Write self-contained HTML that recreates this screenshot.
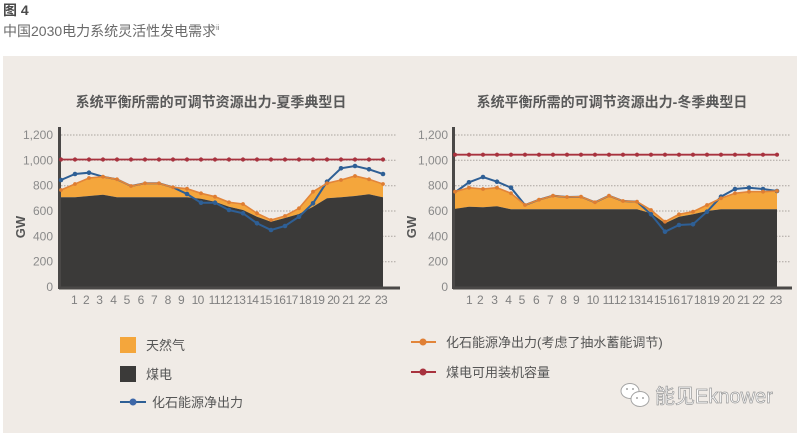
<!DOCTYPE html>
<html><head><meta charset="utf-8"><style>
html,body{margin:0;padding:0;background:#fff;}
body{width:800px;height:433px;overflow:hidden;font-family:"Liberation Sans","Noto Sans CJK SC",sans-serif;}
svg{display:block;}
</style></head><body>
<svg width="800" height="433" viewBox="0 0 800 433" xmlns="http://www.w3.org/2000/svg" font-family="Liberation Sans, Noto Sans CJK SC, sans-serif">
<rect x="0" y="0" width="800" height="433" fill="#ffffff"/>
<text x="3" y="15" font-size="14" font-weight="bold" fill="#4a4a4a">图 4</text>
<text x="3" y="36" font-size="14" fill="#6a6a6a">中国2030电力系统灵活性发电需求<tspan font-size="7" dy="-6">ii</tspan></text>
<rect x="3" y="56" width="794" height="377" fill="#f0ebe6"/>

<!-- Titles -->
<text x="211" y="107" font-size="14" font-weight="bold" fill="#595959" text-anchor="middle">系统平衡所需的可调节资源出力-夏季典型日</text>
<text x="612" y="107" font-size="14" font-weight="bold" fill="#595959" text-anchor="middle">系统平衡所需的可调节资源出力-冬季典型日</text>

<!-- gridlines -->
<g stroke="#aaa49f" stroke-width="1" stroke-dasharray="1.5 1.5">
<line x1="61" y1="135" x2="397" y2="135"/><line x1="61" y1="160.3" x2="397" y2="160.3"/><line x1="61" y1="185.7" x2="397" y2="185.7"/><line x1="61" y1="211" x2="397" y2="211"/><line x1="61" y1="236.3" x2="397" y2="236.3"/><line x1="61" y1="261.7" x2="397" y2="261.7"/>
<line x1="455" y1="135" x2="790" y2="135"/><line x1="455" y1="160.3" x2="790" y2="160.3"/><line x1="455" y1="185.7" x2="790" y2="185.7"/><line x1="455" y1="211" x2="790" y2="211"/><line x1="455" y1="236.3" x2="790" y2="236.3"/><line x1="455" y1="261.7" x2="790" y2="261.7"/>
</g>

<!-- Y labels -->
<g font-size="12" fill="#8a8a8a" text-anchor="end">
<text x="53" y="139">1,200</text><text x="53" y="164.3">1,000</text><text x="53" y="189.7">800</text><text x="53" y="215">600</text><text x="53" y="240.3">400</text><text x="53" y="265.7">200</text><text x="53" y="291">0</text>
<text x="448" y="139">1,200</text><text x="448" y="164.3">1,000</text><text x="448" y="189.7">800</text><text x="448" y="215">600</text><text x="448" y="240.3">400</text><text x="448" y="265.7">200</text><text x="448" y="291">0</text>
</g>
<text transform="translate(25,227) rotate(-90)" font-size="13" font-weight="bold" fill="#555" text-anchor="middle">GW</text>
<text transform="translate(416,227) rotate(-90)" font-size="13" font-weight="bold" fill="#555" text-anchor="middle">GW</text>

<!-- LEFT CHART (summer) -->
<polygon fill="#f4a63c" points="61,190 75,184 89,178 103,176.7 117,179.3 131,186 145,183.3 159,183.3 173,187.3 187,188.7 201,193.3 215,196.7 229,202.3 243,204 257,213.3 271,220 285,216 299,208.3 313,191.7 327,183.3 341,180 355,176 369,179.3 383,184 383,197.3 369,194.3 355,196 341,197.3 327,198.3 313,206.7 299,214 285,218 271,221.7 257,216.7 243,210 229,206.7 215,201.7 201,198.7 187,197.3 173,197.3 159,197.3 145,197.3 131,197.3 117,197.3 103,194.7 89,196 75,197.3 61,197.3"/>
<polygon fill="#3b3a39" points="60,197.3 75,197.3 89,196 103,194.7 117,197.3 131,197.3 145,197.3 159,197.3 173,197.3 187,197.3 201,198.7 215,201.7 229,206.7 243,210 257,216.7 271,221.7 285,218 299,214 313,206.7 327,198.3 341,197.3 355,196 369,194.3 383,197.3 383,287 60,287"/>
<line x1="59.5" y1="127" x2="59.5" y2="289" stroke="#4a4847" stroke-width="3"/>
<line x1="59" y1="288" x2="400" y2="288" stroke="#4a4847" stroke-width="3"/>
<polyline fill="none" stroke="#2e5f95" stroke-width="2" points="61,180 75,174 89,172.7 103,176.7 117,179.3 131,186 145,183.3 159,183.3 173,187.3 187,194 201,202.7 215,202.7 229,210 243,213.3 257,223.3 271,230 285,226 299,216.7 313,203.3 327,181.7 341,168.3 355,166 369,169.3 383,174"/>
<g fill="#2e5f95">
<circle cx="61" cy="180" r="2.3"/><circle cx="75" cy="174" r="2.3"/><circle cx="89" cy="172.7" r="2.3"/><circle cx="187" cy="194" r="2.3"/><circle cx="201" cy="202.7" r="2.3"/><circle cx="215" cy="202.7" r="2.3"/><circle cx="229" cy="210" r="2.3"/><circle cx="243" cy="213.3" r="2.3"/><circle cx="257" cy="223.3" r="2.3"/><circle cx="271" cy="230" r="2.3"/><circle cx="285" cy="226" r="2.3"/><circle cx="299" cy="216.7" r="2.3"/><circle cx="313" cy="203.3" r="2.3"/><circle cx="327" cy="181.7" r="2.3"/><circle cx="341" cy="168.3" r="2.3"/><circle cx="355" cy="166" r="2.3"/><circle cx="369" cy="169.3" r="2.3"/><circle cx="383" cy="174" r="2.3"/>
</g>
<polyline fill="none" stroke="#e2853a" stroke-width="1.6" points="61,190 75,184 89,178 103,176.7 117,179.3 131,186 145,183.3 159,183.3 173,187.3 187,188.7 201,193.3 215,196.7 229,202.3 243,204 257,213.3 271,220 285,216 299,208.3 313,191.7 327,183.3 341,180 355,176 369,179.3 383,184"/>
<g fill="#de7d33">
<circle cx="61" cy="190" r="1.9"/><circle cx="75" cy="184" r="1.9"/><circle cx="89" cy="178" r="1.9"/><circle cx="103" cy="176.7" r="1.9"/><circle cx="117" cy="179.3" r="1.9"/><circle cx="131" cy="186" r="1.9"/><circle cx="145" cy="183.3" r="1.9"/><circle cx="159" cy="183.3" r="1.9"/><circle cx="173" cy="187.3" r="1.9"/><circle cx="187" cy="188.7" r="1.9"/><circle cx="201" cy="193.3" r="1.9"/><circle cx="215" cy="196.7" r="1.9"/><circle cx="229" cy="202.3" r="1.9"/><circle cx="243" cy="204" r="1.9"/><circle cx="257" cy="213.3" r="1.9"/><circle cx="271" cy="220" r="1.9"/><circle cx="285" cy="216" r="1.9"/><circle cx="299" cy="208.3" r="1.9"/><circle cx="313" cy="191.7" r="1.9"/><circle cx="327" cy="183.3" r="1.9"/><circle cx="341" cy="180" r="1.9"/><circle cx="355" cy="176" r="1.9"/><circle cx="369" cy="179.3" r="1.9"/><circle cx="383" cy="184" r="1.9"/>
</g>
<line x1="61" y1="159.5" x2="383" y2="159.5" stroke="#a8323e" stroke-width="1.8"/>
<g fill="#a8323e">
<circle cx="61" cy="159.5" r="2.1"/><circle cx="75" cy="159.5" r="2.1"/><circle cx="89" cy="159.5" r="2.1"/><circle cx="103" cy="159.5" r="2.1"/><circle cx="117" cy="159.5" r="2.1"/><circle cx="131" cy="159.5" r="2.1"/><circle cx="145" cy="159.5" r="2.1"/><circle cx="159" cy="159.5" r="2.1"/><circle cx="173" cy="159.5" r="2.1"/><circle cx="187" cy="159.5" r="2.1"/><circle cx="201" cy="159.5" r="2.1"/><circle cx="215" cy="159.5" r="2.1"/><circle cx="229" cy="159.5" r="2.1"/><circle cx="243" cy="159.5" r="2.1"/><circle cx="257" cy="159.5" r="2.1"/><circle cx="271" cy="159.5" r="2.1"/><circle cx="285" cy="159.5" r="2.1"/><circle cx="299" cy="159.5" r="2.1"/><circle cx="313" cy="159.5" r="2.1"/><circle cx="327" cy="159.5" r="2.1"/><circle cx="341" cy="159.5" r="2.1"/><circle cx="355" cy="159.5" r="2.1"/><circle cx="369" cy="159.5" r="2.1"/><circle cx="383" cy="159.5" r="2.1"/>
</g>

<!-- RIGHT CHART (winter) -->
<polygon fill="#f4a63c" points="455,191.7 469,187.7 483,189 497,187.7 511,193.3 525,205 539,199.7 553,195.7 567,197 581,196.7 595,202.3 609,195.7 623,201 637,201.7 651,210 665,221.7 679,214.3 693,211.7 707,205 721,198.3 735,193.3 749,191.7 763,191.7 777,191 777,209.3 763,209.3 749,209.3 735,209.3 721,209.3 707,211 693,214.3 679,216.7 665,223.3 651,213.3 637,209.3 623,209.3 609,209.3 595,209.3 581,209.3 567,209.3 553,209.3 539,209.3 525,209.3 511,209.3 497,206.3 483,207.3 469,206.7 455,209"/>
<polygon fill="#3b3a39" points="454,209 469,206.7 483,207.3 497,206.3 511,209.3 525,209.3 539,209.3 553,209.3 567,209.3 581,209.3 595,209.3 609,209.3 623,209.3 637,209.3 651,213.3 665,223.3 679,216.7 693,214.3 707,211 721,209.3 735,209.3 749,209.3 763,209.3 777,209.3 777,287 454,287"/>
<line x1="453.5" y1="127" x2="453.5" y2="289" stroke="#4a4847" stroke-width="3"/>
<line x1="453" y1="288" x2="792" y2="288" stroke="#4a4847" stroke-width="3"/>
<polyline fill="none" stroke="#2e5f95" stroke-width="2" points="455,192.3 469,182.3 483,177 497,181.7 511,187.7 525,205 539,199.7 553,195.7 567,197 581,196.7 595,202.3 609,195.7 623,201 637,201.7 651,214.3 665,231.7 679,225 693,224.3 707,211.7 721,196.7 735,189 749,187.7 763,189 777,191"/>
<g fill="#2e5f95">
<circle cx="469" cy="182.3" r="2.3"/><circle cx="483" cy="177" r="2.3"/><circle cx="497" cy="181.7" r="2.3"/><circle cx="511" cy="187.7" r="2.3"/><circle cx="651" cy="214.3" r="2.3"/><circle cx="665" cy="231.7" r="2.3"/><circle cx="679" cy="225" r="2.3"/><circle cx="693" cy="224.3" r="2.3"/><circle cx="707" cy="211.7" r="2.3"/><circle cx="721" cy="196.7" r="2.3"/><circle cx="735" cy="189" r="2.3"/><circle cx="749" cy="187.7" r="2.3"/><circle cx="763" cy="189" r="2.3"/><circle cx="777" cy="191" r="2.3"/>
</g>
<polyline fill="none" stroke="#e2853a" stroke-width="1.6" points="455,191.7 469,187.7 483,189 497,187.7 511,193.3 525,205 539,199.7 553,195.7 567,197 581,196.7 595,202.3 609,195.7 623,201 637,201.7 651,210 665,221.7 679,214.3 693,211.7 707,205 721,198.3 735,193.3 749,191.7 763,191.7 777,191"/>
<g fill="#de7d33">
<circle cx="455" cy="191.7" r="1.9"/><circle cx="469" cy="187.7" r="1.9"/><circle cx="483" cy="189" r="1.9"/><circle cx="497" cy="187.7" r="1.9"/><circle cx="511" cy="193.3" r="1.9"/><circle cx="525" cy="205" r="1.9"/><circle cx="539" cy="199.7" r="1.9"/><circle cx="553" cy="195.7" r="1.9"/><circle cx="567" cy="197" r="1.9"/><circle cx="581" cy="196.7" r="1.9"/><circle cx="595" cy="202.3" r="1.9"/><circle cx="609" cy="195.7" r="1.9"/><circle cx="623" cy="201" r="1.9"/><circle cx="637" cy="201.7" r="1.9"/><circle cx="651" cy="210" r="1.9"/><circle cx="665" cy="221.7" r="1.9"/><circle cx="679" cy="214.3" r="1.9"/><circle cx="693" cy="211.7" r="1.9"/><circle cx="707" cy="205" r="1.9"/><circle cx="721" cy="198.3" r="1.9"/><circle cx="735" cy="193.3" r="1.9"/><circle cx="749" cy="191.7" r="1.9"/><circle cx="763" cy="191.7" r="1.9"/><circle cx="777" cy="191" r="1.9"/>
</g>
<line x1="455" y1="154.7" x2="777" y2="154.7" stroke="#a8323e" stroke-width="1.8"/>
<g fill="#a8323e">
<circle cx="455" cy="154.7" r="2.1"/><circle cx="469" cy="154.7" r="2.1"/><circle cx="483" cy="154.7" r="2.1"/><circle cx="497" cy="154.7" r="2.1"/><circle cx="511" cy="154.7" r="2.1"/><circle cx="525" cy="154.7" r="2.1"/><circle cx="539" cy="154.7" r="2.1"/><circle cx="553" cy="154.7" r="2.1"/><circle cx="567" cy="154.7" r="2.1"/><circle cx="581" cy="154.7" r="2.1"/><circle cx="595" cy="154.7" r="2.1"/><circle cx="609" cy="154.7" r="2.1"/><circle cx="623" cy="154.7" r="2.1"/><circle cx="637" cy="154.7" r="2.1"/><circle cx="651" cy="154.7" r="2.1"/><circle cx="665" cy="154.7" r="2.1"/><circle cx="679" cy="154.7" r="2.1"/><circle cx="693" cy="154.7" r="2.1"/><circle cx="707" cy="154.7" r="2.1"/><circle cx="721" cy="154.7" r="2.1"/><circle cx="735" cy="154.7" r="2.1"/><circle cx="749" cy="154.7" r="2.1"/><circle cx="763" cy="154.7" r="2.1"/><circle cx="777" cy="154.7" r="2.1"/>
</g>

<!-- X labels -->
<g font-size="12" fill="#808080" text-anchor="middle" letter-spacing="-0.6">
<text x="74" y="304">1</text><text x="86" y="304">2</text><text x="99.3" y="304">3</text><text x="113.3" y="304">4</text><text x="126.7" y="304">5</text><text x="140.7" y="304">6</text><text x="154" y="304">7</text><text x="167.7" y="304">8</text><text x="181" y="304">9</text><text x="197.7" y="304">10</text><text x="214.3" y="304">11</text><text x="226" y="304">12</text><text x="239.3" y="304">13</text><text x="252.3" y="304">14</text><text x="265.7" y="304">15</text><text x="279.3" y="304">16</text><text x="291.7" y="304">17</text><text x="305" y="304">18</text><text x="318.3" y="304">19</text><text x="333.3" y="304">20</text><text x="348.3" y="304">21</text><text x="364" y="304">22</text><text x="381" y="304">23</text>
<text x="469" y="304">1</text><text x="480" y="304">2</text><text x="494.3" y="304">3</text><text x="508.3" y="304">4</text><text x="521.7" y="304">5</text><text x="536" y="304">6</text><text x="550" y="304">7</text><text x="563.3" y="304">8</text><text x="576" y="304">9</text><text x="592.7" y="304">10</text><text x="608.3" y="304">11</text><text x="620" y="304">12</text><text x="634.3" y="304">13</text><text x="646.7" y="304">14</text><text x="660" y="304">15</text><text x="673.3" y="304">16</text><text x="686.7" y="304">17</text><text x="700" y="304">18</text><text x="713.3" y="304">19</text><text x="728.3" y="304">20</text><text x="743.3" y="304">21</text><text x="758.3" y="304">22</text><text x="775.7" y="304">23</text>
</g>

<!-- Legend left -->
<rect x="120" y="337" width="16" height="16" fill="#f4a63c"/>
<text x="146" y="350" font-size="13" fill="#555">天然气</text>
<rect x="120" y="366" width="16" height="16" fill="#3b3a39"/>
<text x="146" y="379" font-size="13" fill="#555">煤电</text>
<line x1="120" y1="402" x2="146" y2="402" stroke="#2e5f95" stroke-width="2"/>
<circle cx="133" cy="402" r="3.5" fill="#3d67a8"/>
<text x="152" y="407" font-size="13" fill="#555">化石能源净出力</text>

<!-- Legend right -->
<line x1="411" y1="342" x2="436" y2="342" stroke="#e2853a" stroke-width="2"/>
<circle cx="423" cy="342" r="3.5" fill="#e07f35"/>
<text x="446" y="347" font-size="13" fill="#555">化石能源净出力(考虑了抽水蓄能调节)</text>
<line x1="411" y1="372" x2="436" y2="372" stroke="#a8323e" stroke-width="2"/>
<circle cx="423" cy="372" r="3.5" fill="#a8323e"/>
<text x="446" y="377" font-size="13" fill="#555">煤电可用装机容量</text>

<!-- Watermark -->
<g stroke="#a5a5a5" stroke-width="1" fill="#ffffff">
<ellipse cx="630" cy="391" rx="9" ry="7.5"/>
<ellipse cx="640" cy="399" rx="9" ry="7.5"/>
</g>
<g fill="#a5a5a5">
<circle cx="627" cy="389" r="1"/><circle cx="633" cy="389" r="1"/><circle cx="637" cy="398" r="1"/><circle cx="643" cy="398" r="1"/>
</g>
<text x="655" y="403" font-size="20" fill="#ffffff" stroke="#9a9a9a" stroke-width="0.7">能见Eknower</text>
</svg>
</body></html>
